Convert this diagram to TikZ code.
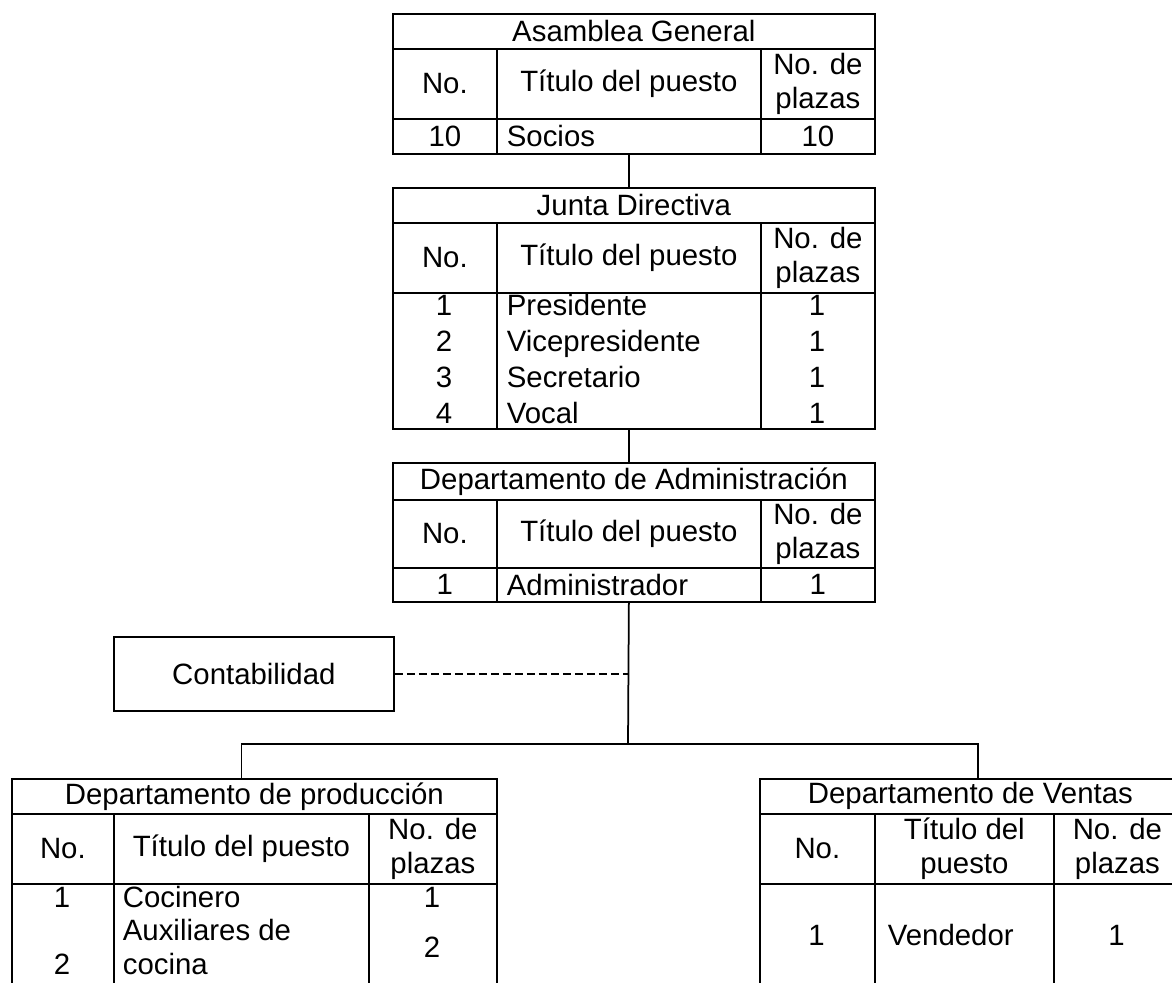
\documentclass[tikz,border=0pt]{standalone}
\usepackage{fontspec}
\setmainfont{Liberation Sans}
\usetikzlibrary{positioning}

\begin{document}
\begin{tikzpicture}[x=0.4pt,y=-0.4pt,line width=0.7pt,
  font=\fontsize{11.75}{13.4}\selectfont,
  cell/.style 2 args={draw,anchor=north west,inner sep=0pt,align=center,
    minimum width=#1*0.4pt,minimum height=#2*0.4pt},
  lcell/.style 2 args={draw,anchor=north west,inner xsep=4pt,inner ysep=0pt,
    align=left,text width=#1*0.4pt-8pt,minimum height=#2*0.4pt},
  txt/.style={inner sep=0pt,anchor=base},
  ltxt/.style={inner sep=0pt,anchor=base west},
  link/.style={draw},
  dotlink/.style={draw,dash pattern=on 3.2pt off 1.6pt}]
\useasboundingbox (0,0) rectangle (1172,982);
% ---- Asamblea General ----
\node[cell={482}{35}] (agT) at (392,13) {Asamblea General};
\node[cell={104}{70}] (agH1) at (392,48) {No.};
\node[cell={264}{70}] (agH2) at (496,48) {Título del puesto};
\node[cell={114}{70}] (agH3) at (760,48) {No. de\\plazas};
\node[cell={104}{35}] (agD1) at (392,118) {10};
\node[lcell={264}{35}] (agD2) at (496,118) {Socios};
\node[cell={114}{35}] (agD3) at (760,118) {10};
% ---- Junta Directiva ----
\node[cell={482}{35}] (jdT) at (392,187) {Junta Directiva};
\node[cell={104}{70}] (jdH1) at (392,222) {No.};
\node[cell={264}{70}] (jdH2) at (496,222) {Título del puesto};
\node[cell={114}{70}] (jdH3) at (760,222) {No. de\\plazas};
\node[cell={104}{136}] (jdD1) at (392,292) {};
\node[cell={264}{136}] (jdD2) at (496,292) {};
\node[cell={114}{136}] (jdD3) at (760,292) {};
\node[txt] (jdN1) at (444,315) {1};
\node[txt] (jdN2) at (444,351) {2};
\node[txt] (jdN3) at (444,387) {3};
\node[txt] (jdN4) at (444,423) {4};
\node[ltxt] (jdP1) at (506,315) {Presidente};
\node[ltxt] (jdP2) at (506,351) {Vicepresidente};
\node[ltxt] (jdP3) at (506,387) {Secretario};
\node[ltxt] (jdP4) at (506,423) {Vocal};
\node[txt] (jdC1) at (817,315) {1};
\node[txt] (jdC2) at (817,351) {1};
\node[txt] (jdC3) at (817,387) {1};
\node[txt] (jdC4) at (817,423) {1};
% ---- Departamento de Administracion ----
\node[cell={482}{37}] (daT) at (392,462) {Departamento de Administración};
\node[cell={104}{68}] (daH1) at (392,499) {No.};
\node[cell={264}{68}] (daH2) at (496,499) {Título del puesto};
\node[cell={114}{68}] (daH3) at (760,499) {No. de\\plazas};
\node[cell={104}{34}] (daD1) at (392,567) {1};
\node[lcell={264}{34}] (daD2) at (496,567) {Administrador};
\node[cell={114}{34}] (daD3) at (760,567) {1};
% ---- Contabilidad ----
\node[cell={280}{74}] (cont) at (113,636) {Contabilidad};
% ---- Departamento de produccion ----
\node[cell={485}{35}] (dpT) at (11,778) {Departamento de producción};
\node[cell={102}{70}] (dpH1) at (11,813) {No.};
\node[cell={255}{70}] (dpH2) at (113,813) {Título del puesto};
\node[cell={128}{70}] (dpH3) at (368,813) {No. de\\plazas};
\node[cell={102}{104}] (dpD1) at (11,883) {};
\node[cell={255}{104}] (dpD2) at (113,883) {};
\node[cell={128}{104}] (dpD3) at (368,883) {};
\node[txt] (dpN1) at (62,907) {1};
\node[txt] (dpN2) at (62,974) {2};
\node[ltxt] (dpP1) at (122,907) {Cocinero};
\node[ltxt] (dpP2) at (122,940) {Auxiliares de};
\node[ltxt] (dpP3) at (122,974) {cocina};
\node[txt] (dpC1) at (432,907) {1};
\node[txt] (dpC2) at (432,957) {2};
% ---- Departamento de Ventas ----
\node[cell={421}{35}] (dvT) at (759,778) {Departamento de Ventas};
\node[cell={115}{70}] (dvH1) at (759,813) {No.};
\node[cell={179}{70}] (dvH2) at (874,813) {Título del\\puesto};
\node[cell={127}{70}] (dvH3) at (1053,813) {No. de\\plazas};
\node[cell={115}{104}] (dvD1) at (759,883) {};
\node[cell={179}{104}] (dvD2) at (874,883) {};
\node[cell={127}{104}] (dvD3) at (1053,883) {};
\node[txt] (dvN1) at (816.5,945) {1};
\node[ltxt] (dvP1) at (887,945) {Vendedor};
\node[txt] (dvC1) at (1116.5,945) {1};
% ---- connectors ----
\coordinate (bus) at (628,744);
\draw[link] (agD2.south) -- (agD2.south |- jdT.north);
\draw[link] (jdD2.south) -- (jdD2.south |- daT.north);
\draw[link] (daD2.south) -- (bus);
\draw[dotlink] (cont.east) -- (cont.east -| bus);
\draw[link] (dpH2.center |- dpT.north) |- (bus) -| ([xshift=3pt]dvT.north);
\end{tikzpicture}
\end{document}
